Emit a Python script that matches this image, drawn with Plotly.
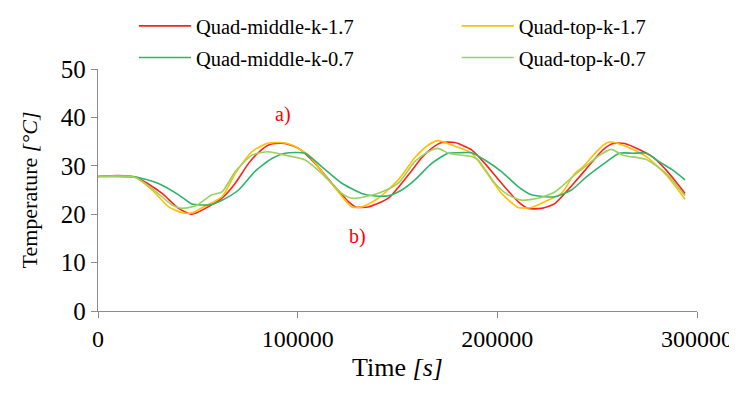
import plotly.graph_objects as go

# ---- data ----
t_mid_17 = [0, 10000, 18750, 25000, 32100, 40400, 47100, 53750, 62100, 68750, 75400, 80000, 85400,
            88750, 93750, 100400, 108750, 117100, 125400, 129000, 135400, 145400, 155400, 162000,
            167100, 172100, 178750, 187100, 193750, 202100, 210400, 215400, 222100, 228750, 238750,
            246250, 252900, 258000, 263800, 271250, 277900, 284600, 294000]
T_mid_17 = [27.8, 28.0, 27.7, 26.3, 24.3, 21.2, 20.0, 21.2, 23.3, 26.4, 30.5, 32.6, 34.3,
            34.6, 34.6, 33.6, 30.5, 26.4, 22.6, 21.5, 21.5, 23.3, 28.1, 31.6,
            33.6, 34.8, 34.8, 33.3, 30.5, 26.4, 22.6, 21.2, 21.2, 22.2, 26.6,
            30.2, 33.3, 34.6, 34.6, 33.3, 31.8, 29.1, 24.3]

t_top_17 = [0, 18750, 27100, 35400, 42100, 47100, 53750, 62100, 68750, 77100, 84600, 91250, 97100,
            105400, 115400, 123750, 127100, 132100, 140400, 150400, 158750, 165400, 170400, 177100,
            187100, 193750, 202100, 210400, 217100, 223750, 232100, 238750, 242900, 251250, 256000,
            264600, 274600, 284600, 294000]
T_top_17 = [27.8, 27.6, 25.0, 21.5, 20.3, 20.3, 21.7, 23.6, 28.4, 32.9, 34.6, 34.8, 34.3,
            32.2, 27.1, 22.9, 21.5, 21.5, 23.3, 27.1, 31.7, 34.3, 35.2, 34.3,
            32.6, 29.1, 24.3, 21.4, 21.4, 22.6, 24.3, 28.4, 29.8, 33.6, 34.9,
            34.0, 31.9, 28.1, 23.1]

t_mid_07 = [0, 18750, 23750, 32100, 40400, 47100, 52000, 55400, 62100, 70400, 78750, 87100, 93750,
            103750, 112100, 122100, 132100, 138000, 145400, 152100, 158750, 167100, 175400, 181000,
            187100, 193750, 202100, 210400, 217100, 224000, 228750, 237100, 244600, 254600, 261000,
            268000, 274600, 281250, 287900, 294000]
T_mid_07 = [27.8, 27.7, 27.2, 26.0, 24.0, 22.1, 21.9, 21.9, 22.9, 25.0, 28.9, 31.5, 32.6,
            32.6, 29.8, 26.4, 24.3, 23.8, 23.8, 25.0, 27.1, 30.5, 32.6, 32.7,
            32.7, 31.2, 28.8, 25.7, 24.0, 23.6, 23.6, 25.0, 27.7, 30.8, 32.6,
            32.6, 32.6, 30.8, 29.1, 27.1]

t_top_07 = [0, 18750, 27100, 37100, 42100, 48750, 57100, 62100, 68750, 77100, 85400, 93750, 103750,
            112100, 122100, 127100, 133750, 142100, 150400, 158750, 165400, 170400, 175400, 187100,
            190400, 198750, 205400, 212100, 220400, 228750, 238750, 246000, 251250, 257000, 262900,
            274600, 284600, 294000]
T_top_07 = [27.8, 27.6, 25.3, 21.9, 21.2, 21.7, 24.0, 24.6, 28.8, 32.2, 32.9, 32.2, 31.2,
            28.4, 24.3, 23.3, 23.6, 24.6, 26.4, 30.9, 32.9, 33.6, 32.6, 31.9,
            31.2, 26.4, 24.0, 22.9, 23.3, 24.6, 28.1, 30.5, 32.2, 33.4, 32.2,
            31.3, 28.4, 23.8]

series_names = ["Quad-middle-k-1.7", "Quad-top-k-1.7", "Quad-middle-k-0.7", "Quad-top-k-0.7"]
x_ticks = [0, 100000, 200000, 300000]
y_ticks = [0, 10, 20, 30, 40, 50]
labels_text = ["a)", "b)"]
labels_x = [92750, 129750]
labels_y = [40.5, 15.3]

colors = ["#FF2020", "#FFC000", "#2FB46C", "#9CD162"]
legend_ids = ["legend", "legend2", "legend", "legend2"]
FONT = "Liberation Serif"

W, H = 729, 378  # page body adds an 8px margin on each side

fig = go.Figure()
for i, (name, xs, ys, c, lg) in enumerate(zip(series_names,
                                               [t_mid_17, t_top_17, t_mid_07, t_top_07],
                                               [T_mid_17, T_top_17, T_mid_07, T_top_07],
                                               colors, legend_ids)):
    fig.add_trace(go.Scatter(x=xs, y=ys, mode="lines", name=name, legend=lg,
                             legendgroup="g%d" % i,
                             line=dict(color=c, width=1.6, shape="spline", smoothing=0.6)))

for txt, ax, ay in zip(labels_text, labels_x, labels_y):
    fig.add_annotation(x=ax, y=ay, text=txt, showarrow=False,
                       font=dict(family=FONT, size=20, color="#FF0000"))

legend_common = dict(orientation="v", xanchor="left", xref="paper",
                     yref="paper", y=1.26, yanchor="top", itemwidth=52,
                     tracegroupgap=2,
                     font=dict(family=FONT, size=20.5, color="black"),
                     bgcolor="rgba(0,0,0,0)")

fig.update_layout(
    width=W, height=H,
    margin=dict(l=89.5, r=40, t=61, b=75, autoexpand=False),
    paper_bgcolor="white", plot_bgcolor="white",
    font=dict(family=FONT, size=24, color="black"),
    showlegend=True,
    legend=dict(x=0.06, **legend_common),
    legend2=dict(x=0.5988, **legend_common),
    xaxis=dict(range=[0, 300000], tickvals=x_ticks, tickformat="d",
               showline=True, linecolor="#8C8C8C", linewidth=1.3,
               ticks="outside", ticklen=6, tickcolor="#8C8C8C",
               showgrid=False, zeroline=False,
               tickfont=dict(family=FONT, size=24),
               title=dict(text="Time <i>[s]</i>", font=dict(family=FONT, size=26), standoff=6)),
    yaxis=dict(range=[0, 50], tickvals=y_ticks,
               showline=True, linecolor="#8C8C8C", linewidth=1.3,
               ticks="outside", ticklen=6, tickcolor="#8C8C8C",
               showgrid=False, zeroline=False,
               tickfont=dict(family=FONT, size=25),
               title=dict(text="Temperature <i>[°C]</i>", font=dict(family=FONT, size=22), standoff=17)),
)

fig.write_html("out.html")
